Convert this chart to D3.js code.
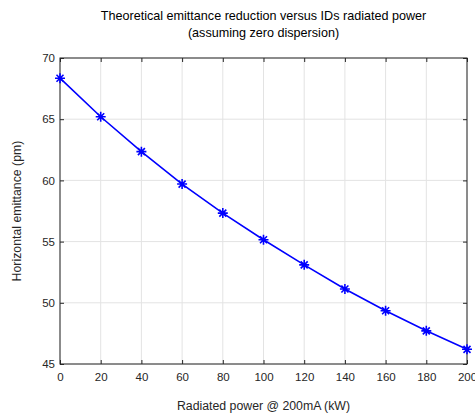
<!DOCTYPE html>
<html>
<head>
<meta charset="utf-8">
<script src="https://cdn.jsdelivr.net/npm/d3@7"></script>
<style>
  body { margin: 0; background: #fff; }
  svg { display: block; font-family: "Liberation Sans", Arial, Helvetica, sans-serif; }
</style>
</head>
<body>
<div id="chart"></div>
<script>
(function () {
	'use strict';

	var power = [0, 20, 40, 60, 80, 100, 120, 140, 160, 180, 200];
	var emittance = [68.35, 65.2, 62.35, 59.7, 57.33, 55.15, 53.1, 51.13, 49.35, 47.71, 46.2];
	var xTicks = [0, 20, 40, 60, 80, 100, 120, 140, 160, 180, 200];
	var yTicks = [45, 50, 55, 60, 65, 70];

	var width = 475, height = 414;
	var left = 60, right = 467, top = 58, bottom = 364;
	var axisColor = '#262626';

	var svg = d3.select('#chart')
		.append('svg')
		.attr('width', width)
		.attr('height', height);

	var x = d3.scaleLinear().domain([0, 200]).range([left, right]);
	var y = d3.scaleLinear().domain([45, 70]).range([bottom, top]);

	// grid
	svg.append('g').selectAll('line')
		.data(xTicks)
		.enter().append('line')
		.attr('x1', function (d) { return x(d); })
		.attr('x2', function (d) { return x(d); })
		.attr('y1', top)
		.attr('y2', bottom)
		.attr('stroke', '#e3e3e3')
		.attr('stroke-width', 1);

	svg.append('g').selectAll('line')
		.data(yTicks)
		.enter().append('line')
		.attr('x1', left)
		.attr('x2', right)
		.attr('y1', function (d) { return y(d); })
		.attr('y2', function (d) { return y(d); })
		.attr('stroke', '#e3e3e3')
		.attr('stroke-width', 1);

	function styleAxis(g) {
		g.select('.domain').remove();
		g.selectAll('line').attr('stroke', axisColor);
		g.selectAll('text')
			.attr('fill', axisColor)
			.style('font-size', '11.5px')
			.style('font-family', '"Liberation Sans", Arial, Helvetica, sans-serif');
	}

	// axes (ticks inside, MATLAB style)
	svg.append('g')
		.attr('transform', 'translate(0,' + bottom + ')')
		.call(d3.axisBottom(x).tickValues(xTicks).tickSizeInner(-4).tickSizeOuter(0).tickPadding(9))
		.call(styleAxis);

	svg.append('g')
		.attr('transform', 'translate(0,' + top + ')')
		.call(d3.axisTop(x).tickValues(xTicks).tickSizeInner(-4).tickSizeOuter(0).tickFormat(''))
		.call(styleAxis);

	svg.append('g')
		.attr('transform', 'translate(' + left + ',0)')
		.call(d3.axisLeft(y).tickValues(yTicks).tickSizeInner(-4).tickSizeOuter(0).tickPadding(5))
		.call(styleAxis);

	svg.append('g')
		.attr('transform', 'translate(' + right + ',0)')
		.call(d3.axisRight(y).tickValues(yTicks).tickSizeInner(-4).tickSizeOuter(0).tickFormat(''))
		.call(styleAxis);

	// box
	svg.append('rect')
		.attr('x', left)
		.attr('y', top)
		.attr('width', right - left)
		.attr('height', bottom - top)
		.attr('fill', 'none')
		.attr('stroke', axisColor)
		.attr('stroke-width', 1);

	var data = power.map(function (p, i) { return [p, emittance[i]]; });

	var line = d3.line()
		.x(function (d) { return x(d[0]); })
		.y(function (d) { return y(d[1]); });

	svg.append('path')
		.datum(data)
		.attr('d', line)
		.attr('fill', 'none')
		.attr('stroke', '#0000ff')
		.attr('stroke-width', 1.6);

	// asterisk markers
	var r = 5;
	var star = 'M' + (-r) + ',0L' + r + ',0' +
		'M0,' + (-r) + 'L0,' + r +
		'M' + (-r * 0.7) + ',' + (-r * 0.7) + 'L' + (r * 0.7) + ',' + (r * 0.7) +
		'M' + (-r * 0.7) + ',' + (r * 0.7) + 'L' + (r * 0.7) + ',' + (-r * 0.7);

	svg.append('g').selectAll('path')
		.data(data)
		.enter().append('path')
		.attr('transform', function (d) { return 'translate(' + x(d[0]) + ',' + y(d[1]) + ')'; })
		.attr('d', star)
		.attr('fill', 'none')
		.attr('stroke', '#0000ff')
		.attr('stroke-width', 1.6);

	// title
	var cx = (left + right) / 2;
	svg.append('text')
		.attr('x', cx)
		.attr('y', 20)
		.attr('text-anchor', 'middle')
		.style('font-size', '12.6px')
		.attr('fill', '#000')
		.text('Theoretical emittance reduction versus IDs radiated power');
	svg.append('text')
		.attr('x', cx)
		.attr('y', 36.5)
		.attr('text-anchor', 'middle')
		.style('font-size', '12.6px')
		.attr('fill', '#000')
		.text('(assuming zero dispersion)');

	// axis labels
	svg.append('text')
		.attr('x', cx)
		.attr('y', 410)
		.attr('text-anchor', 'middle')
		.style('font-size', '12.3px')
		.attr('fill', axisColor)
		.text('Radiated power @ 200mA (kW)');

	svg.append('text')
		.attr('transform', 'translate(21,' + ((top + bottom) / 2) + ') rotate(-90)')
		.attr('text-anchor', 'middle')
		.style('font-size', '12.3px')
		.attr('fill', axisColor)
		.text('Horizontal emittance (pm)');

})();
</script>
</body>
</html>
